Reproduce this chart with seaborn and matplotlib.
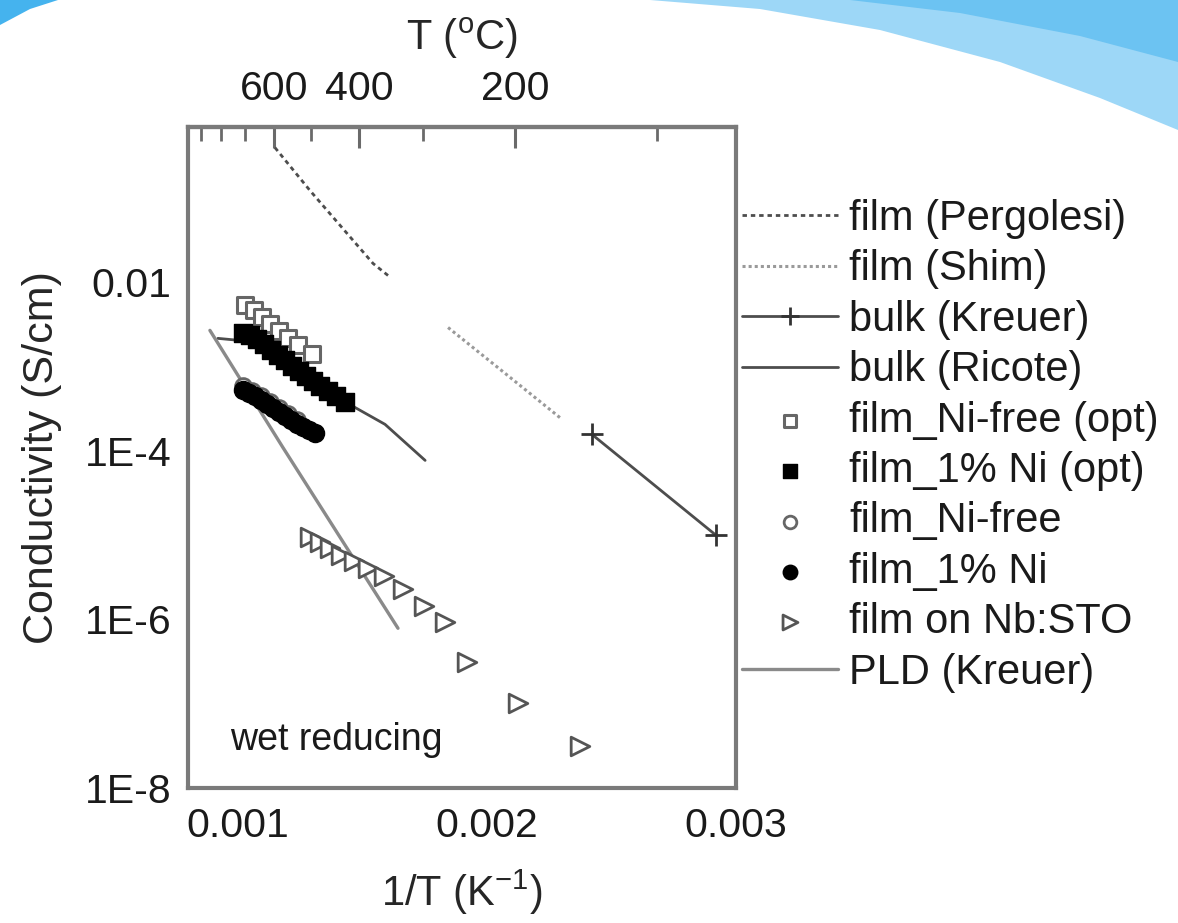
import numpy as np
import pandas as pd
import matplotlib
matplotlib.use("Agg")
import matplotlib.pyplot as plt
import seaborn as sns
from matplotlib.ticker import FixedLocator, FixedFormatter, LogLocator, NullFormatter, MultipleLocator
from matplotlib.patches import Polygon

# ---------------- data (1/T in K^-1, conductivity in S/cm) ----------------
perg_x = [0.001149, 0.001290, 0.001418, 0.001543, 0.001603]
perg_y = [0.399, 0.123, 0.0449, 0.0168, 0.0121]

shim_x = [0.001844, 0.002073, 0.002302]
shim_y = [2.92e-3, 8.34e-4, 2.37e-4]

kreuer_x = [0.002422, 0.002920]
kreuer_y = [1.57e-4, 9.98e-6]

ricote_x = [0.000920, 0.001009, 0.001129, 0.001250, 0.001370, 0.001470, 0.001591, 0.001752]
ricote_y = [2.17e-3, 2.05e-3, 1.56e-3, 9.55e-4, 5.24e-4, 3.29e-4, 2.07e-4, 7.73e-5]

pld_x = [0.000888, 0.001181, 0.001643]
pld_y = [2.70e-3, 1.10e-4, 7.87e-7]

nifree_opt_x = [0.0010288, 0.0010650, 0.0010971, 0.0011292, 0.0011653, 0.0012015, 0.0012416, 0.0012978]
nifree_opt_y = [5.33e-3, 4.66e-3, 3.85e-3, 3.18e-3, 2.62e-3, 2.17e-3, 1.79e-3, 1.40e-3]

ni1_opt_x = [0.0010208, 0.0010489, 0.0010770, 0.0011051, 0.0011332, 0.0011613, 0.0011894, 0.0012175,
             0.0012456, 0.0012737, 0.0013018, 0.0013299, 0.0013620, 0.0013942, 0.0014303]
ni1_opt_y = [2.48e-3, 2.35e-3, 2.11e-3, 1.84e-3, 1.56e-3, 1.36e-3, 1.19e-3, 1.01e-3,
             8.79e-4, 7.67e-4, 6.70e-4, 5.83e-4, 5.09e-4, 4.45e-4, 3.78e-4]

nifree_x = [0.0010208, 0.0010569, 0.0010931, 0.0011292, 0.0011653, 0.0012015, 0.0012376]
nifree_y = [5.87e-4, 5.19e-4, 4.46e-4, 3.79e-4, 3.21e-4, 2.73e-4, 2.32e-4]

ni1_x = [0.0010208, 0.0010449, 0.0010690, 0.0010931, 0.0011172, 0.0011412, 0.0011653,
         0.0011894, 0.0012135, 0.0012376, 0.0012617, 0.0012858, 0.0013099]
ni1_y = [5.24e-4, 4.82e-4, 4.45e-4, 3.98e-4, 3.57e-4, 3.20e-4, 2.87e-4,
         2.57e-4, 2.31e-4, 2.07e-4, 1.91e-4, 1.75e-4, 1.62e-4]

sto_x = [0.0012898, 0.0013299, 0.0013701, 0.0014142, 0.0014664, 0.0015226, 0.0015869,
         0.0016631, 0.0017474, 0.0018318, 0.0019201, 0.0021248, 0.0023737]
sto_y = [9.44e-6, 8.24e-6, 7.00e-6, 5.78e-6, 4.90e-6, 4.05e-6, 3.25e-6,
         2.28e-6, 1.44e-6, 9.27e-7, 3.10e-7, 1.01e-7, 3.13e-8]

y_major = [1e-8, 1e-7, 1e-6, 1e-5, 1e-4, 1e-3, 1e-2, 1e-1]
y_labels = ["1E-8", "", "1E-6", "", "1E-4", "", "0.01", ""]
x_major = [0.001, 0.002, 0.003]
x_labels = ["0.001", "0.002", "0.003"]
top_major = [600, 400, 200]
top_minor = [900, 800, 700, 500, 300, 100]

legend_order = ["film (Pergolesi)", "film (Shim)", "bulk (Kreuer)", "bulk (Ricote)",
                "film_Ni-free (opt)", "film_1% Ni (opt)", "film_Ni-free", "film_1% Ni",
                "film on Nb:STO", "PLD (Kreuer)"]

# ---------------- style ----------------
sns.set_theme(style="white")
plt.rcParams["font.family"] = ["Liberation Sans", "DejaVu Sans"]
plt.rcParams["mathtext.fontset"] = "custom"
plt.rcParams["mathtext.rm"] = "Liberation Sans"
plt.rcParams["mathtext.it"] = "Liberation Sans"
plt.rcParams["text.color"] = "#1a1a1a"

W, H = 1178, 923
fig = plt.figure(figsize=(W / 100, H / 100), dpi=100)
fig.patch.set_facecolor("white")

def px(pts):
    return [(x / W, 1 - y / H) for x, y in pts]

# slide decoration (blue swooshes)
fig.patches.append(Polygon(px([(0, 0), (58, 0), (30, 9), (0, 25)]), closed=True,
                           transform=fig.transFigure, facecolor="#45b3ee", edgecolor="none"))
fig.patches.append(Polygon(px([(650, 0), (1178, 0), (1178, 130), (1100, 98), (1000, 62),
                               (880, 30), (760, 9)]), closed=True,
                           transform=fig.transFigure, facecolor="#9dd7f7", edgecolor="none"))
fig.patches.append(Polygon(px([(850, 0), (1178, 0), (1178, 62), (1080, 36), (960, 13)]), closed=True,
                           transform=fig.transFigure, facecolor="#6cc3f2", edgecolor="none"))

ax = fig.add_axes([188 / W, 1 - 788 / H, (736 - 188) / W, (788 - 127) / H])
ax.set_facecolor("white")
ax.set_yscale("log")

dark = "#4d4d4d"
light = "#9a9a9a"

sns.lineplot(x=perg_x, y=perg_y, ax=ax, color=dark, lw=2.0, linestyle=(0, (1.6, 1.4)),
             sort=False, estimator=None, label="film (Pergolesi)")
sns.lineplot(x=shim_x, y=shim_y, ax=ax, color=light, lw=2.2, linestyle=(0, (1.0, 1.0)),
             sort=False, estimator=None, label="film (Shim)")
sns.lineplot(x=kreuer_x, y=kreuer_y, ax=ax, color=dark, lw=2.0, marker="+", markersize=16,
             markeredgewidth=2.0, markeredgecolor="#333333", sort=False, estimator=None,
             label="bulk (Kreuer)")
sns.lineplot(x=ricote_x, y=ricote_y, ax=ax, color=dark, lw=2.0,
             sort=False, estimator=None, label="bulk (Ricote)")
sns.lineplot(x=pld_x, y=pld_y, ax=ax, color="#8a8a8a", lw=2.4,
             sort=False, estimator=None, label="PLD (Kreuer)")

sns.scatterplot(x=nifree_opt_x, y=nifree_opt_y, ax=ax, marker="s", s=120, facecolor="white",
                edgecolor="#666666", linewidth=2.2, zorder=3, label="film_Ni-free (opt)")
sns.scatterplot(x=ni1_opt_x, y=ni1_opt_y, ax=ax, marker="s", s=150, color="black",
                edgecolor="black", linewidth=1.0, zorder=4, label="film_1% Ni (opt)")
sns.scatterplot(x=nifree_x, y=nifree_y, ax=ax, marker="o", s=130, facecolor="white",
                edgecolor="#666666", linewidth=2.0, zorder=3, label="film_Ni-free")
sns.scatterplot(x=ni1_x, y=ni1_y, ax=ax, marker="o", s=170, color="black",
                edgecolor="black", linewidth=1.0, zorder=4, label="film_1% Ni")
sns.scatterplot(x=sto_x, y=sto_y, ax=ax, marker=">", s=180, facecolor="white",
                edgecolor="#555555", linewidth=2.0, zorder=3, label="film on Nb:STO")

ax.set_xlim(0.0008, 0.003)
ax.set_ylim(1e-8, 0.7)

# ---------------- axes / ticks ----------------
spine_c = "#7a7a7a"
for s in ax.spines.values():
    s.set_color(spine_c)
    s.set_linewidth(3.0)

ax.yaxis.set_major_locator(FixedLocator(y_major))
ax.yaxis.set_major_formatter(FixedFormatter(y_labels))
ax.yaxis.set_minor_locator(LogLocator(base=10, subs=np.arange(2, 10), numticks=100))
ax.yaxis.set_minor_formatter(NullFormatter())
ax.xaxis.set_major_locator(FixedLocator(x_major))
ax.xaxis.set_major_formatter(FixedFormatter(x_labels))
ax.xaxis.set_minor_locator(MultipleLocator(0.0005))

ax.tick_params(axis="both", which="both", direction="in", color="#6a6a6a",
               top=False, right=False, labelsize=29.5, labelcolor="#1a1a1a")
ax.tick_params(axis="y", which="major", length=17, width=2.2, pad=12)
ax.tick_params(axis="y", which="minor", length=11, width=2.0)
ax.tick_params(axis="x", which="major", length=18, width=2.2, pad=14)
ax.tick_params(axis="x", which="minor", length=9, width=2.0)

def fwd(x):
    x = np.asarray(x, dtype=float)
    with np.errstate(divide="ignore", invalid="ignore"):
        return 1.0 / x - 273.0

def inv(t):
    t = np.asarray(t, dtype=float)
    with np.errstate(divide="ignore", invalid="ignore"):
        return 1.0 / (t + 273.0)

secax = ax.secondary_xaxis("top", functions=(fwd, inv))
secax.set_xticks(top_major)
secax.set_xticklabels([str(v) for v in top_major])
secax.xaxis.set_minor_locator(FixedLocator(top_minor))
secax.tick_params(axis="x", which="both", direction="in", color="#6a6a6a", labelsize=29.5,
                  labelcolor="#1a1a1a")
secax.tick_params(axis="x", which="major", length=15, width=2.2, pad=14)
secax.tick_params(axis="x", which="minor", length=10, width=2.0)
secax.spines["top"].set_color(spine_c)
secax.spines["top"].set_linewidth(3.0)
secax.set_xlabel(r"T ($^{\mathrm{o}}$C)", fontsize=30, labelpad=14)

ax.set_xlabel(r"1/T (K$^{-1}$)", fontsize=30, labelpad=16)
ax.set_ylabel("Conductivity (S/cm)", fontsize=31, labelpad=16)

ax.text(0.077, 0.073, "wet reducing", transform=ax.transAxes, fontsize=27,
        ha="left", va="center", color="#1a1a1a")

# ---------------- legend ----------------
handles, labels = ax.get_legend_handles_labels()
hmap = dict(zip(labels, handles))
leg = ax.legend([hmap[l] for l in legend_order], legend_order,
                loc="upper left", bbox_to_anchor=(742 / W, 1 - 199 / H),
                bbox_transform=fig.transFigure, frameon=False, fontsize=30,
                handlelength=2.3, handletextpad=0.28, labelspacing=0.25,
                borderpad=0, borderaxespad=0, markerscale=0.8)

fig.savefig("out.png", dpi=100, facecolor="white")
